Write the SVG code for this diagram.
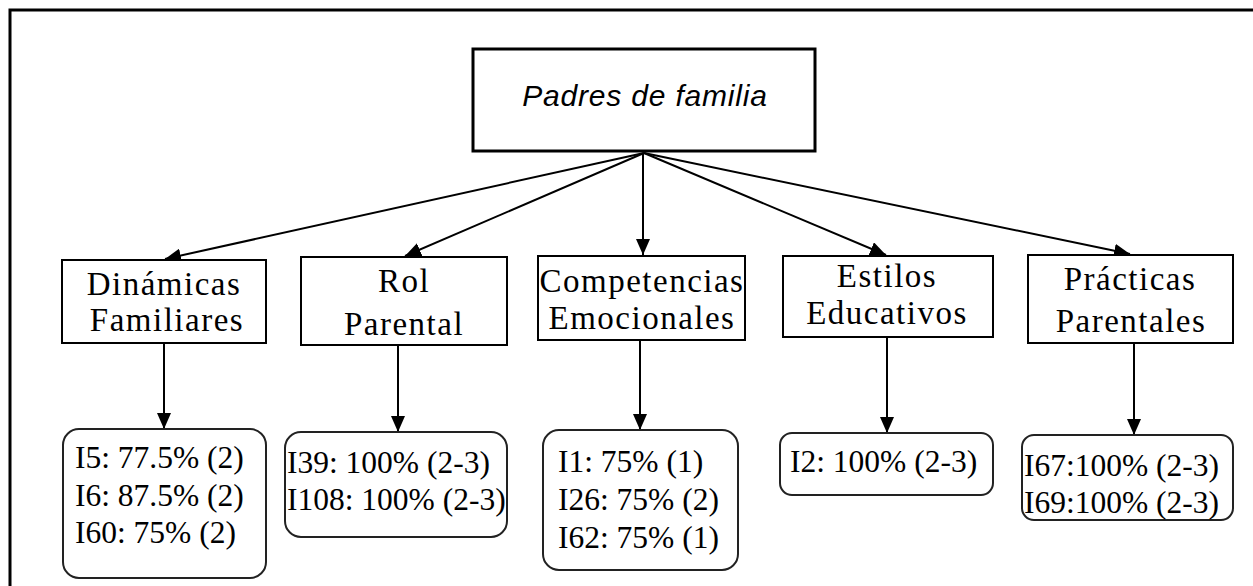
<svg xmlns="http://www.w3.org/2000/svg" width="1253" height="586" viewBox="0 0 1253 586">
<style>
.box{fill:#fff;stroke:#000;stroke-width:2}
.rbox{fill:#fff;stroke:#222;stroke-width:2}
.h{font-family:"Liberation Serif","Times New Roman",serif;font-size:33px;letter-spacing:1.5px;text-anchor:middle;fill:#000}
.t{font-family:"Liberation Serif","Times New Roman",serif;font-size:31.5px;fill:#000}
.c{stroke:#000;stroke-width:2;fill:none;marker-end:url(#ah)}
</style>
<defs>
<marker id="ah" markerWidth="16" markerHeight="14" refX="16" refY="7" orient="auto" markerUnits="userSpaceOnUse">
<path d="M0,0 L16,7 L0,14 Z" fill="#000"/>
</marker>
</defs>
<rect width="1253" height="586" fill="#fff"/>
<rect x="10" y="10" width="1260" height="600" fill="none" stroke="#000" stroke-width="3"/>
<g id="connectors">
<line class="c" x1="644" y1="153" x2="165" y2="259"/>
<line class="c" x1="644" y1="153" x2="405" y2="256"/>
<line class="c" x1="643" y1="153" x2="643" y2="255" stroke-width="3"/>
<line class="c" x1="644" y1="153" x2="886" y2="255"/>
<line class="c" x1="644" y1="153" x2="1130" y2="254"/>
<line class="c" x1="164" y1="343" x2="164" y2="429"/>
<line class="c" x1="398" y1="345" x2="398" y2="432"/>
<line class="c" x1="640" y1="340" x2="640" y2="430"/>
<line class="c" x1="887" y1="337" x2="887" y2="433"/>
<line class="c" x1="1134" y1="343" x2="1134" y2="435" stroke-width="3"/>
</g>
<g id="padres">
<rect x="473" y="49" width="342" height="102" fill="#fff" stroke="#000" stroke-width="3"/>
<text x="645" y="106" font-family="'Liberation Sans',Arial,sans-serif" font-size="30" font-style="italic" text-anchor="middle" letter-spacing="0.8">Padres de familia</text>
</g>
<g id="dinamicas">
<rect class="box" x="62" y="260" width="204" height="83"/>
<text class="h" x="164" y="295">Dinámicas</text>
<text class="h" x="167" y="331">Familiares</text>
</g>
<g id="rol">
<rect class="box" x="301" y="257" width="206" height="88"/>
<text class="h" x="404" y="292" letter-spacing="5">Rol</text>
<text class="h" x="404" y="335">Parental</text>
</g>
<g id="competencias">
<rect class="box" x="538" y="256" width="207" height="84"/>
<text class="h" x="642" y="292" letter-spacing="0.8">Competencias</text>
<text class="h" x="642" y="329" letter-spacing="0.8">Emocionales</text>
</g>
<g id="estilos">
<rect class="box" x="783" y="256" width="210" height="81"/>
<text class="h" x="887" y="287">Estilos</text>
<text class="h" x="887" y="324">Educativos</text>
</g>
<g id="practicas">
<rect class="box" x="1028" y="255" width="205" height="88"/>
<text class="h" x="1130" y="290">Prácticas</text>
<text class="h" x="1131" y="332">Parentales</text>
</g>
<g id="r1">
<rect class="rbox" x="63" y="429" width="203" height="149" rx="16"/>
<text class="t" x="75" y="468">I5: 77.5% (2)</text>
<text class="t" x="75" y="506">I6: 87.5% (2)</text>
<text class="t" x="75" y="543">I60: 75% (2)</text>
</g>
<g id="r2">
<rect class="rbox" x="285" y="432" width="222" height="105" rx="16"/>
<text class="t" x="287" y="473">I39: 100% (2-3)</text>
<text class="t" x="287" y="510">I108: 100% (2-3)</text>
</g>
<g id="r3">
<rect class="rbox" x="543" y="430" width="195" height="140" rx="16"/>
<text class="t" x="558" y="472">I1: 75% (1)</text>
<text class="t" x="558" y="510">I26: 75% (2)</text>
<text class="t" x="558" y="548">I62: 75% (1)</text>
</g>
<g id="r4">
<rect class="rbox" x="780" y="433" width="213" height="62" rx="12"/>
<text class="t" x="790" y="472">I2: 100% (2-3)</text>
</g>
<g id="r5">
<rect class="rbox" x="1022" y="435" width="211" height="85" rx="12"/>
<text class="t" x="1024" y="476">I67:100% (2-3)</text>
<text class="t" x="1024" y="513">I69:100% (2-3)</text>
</g>
</svg>
